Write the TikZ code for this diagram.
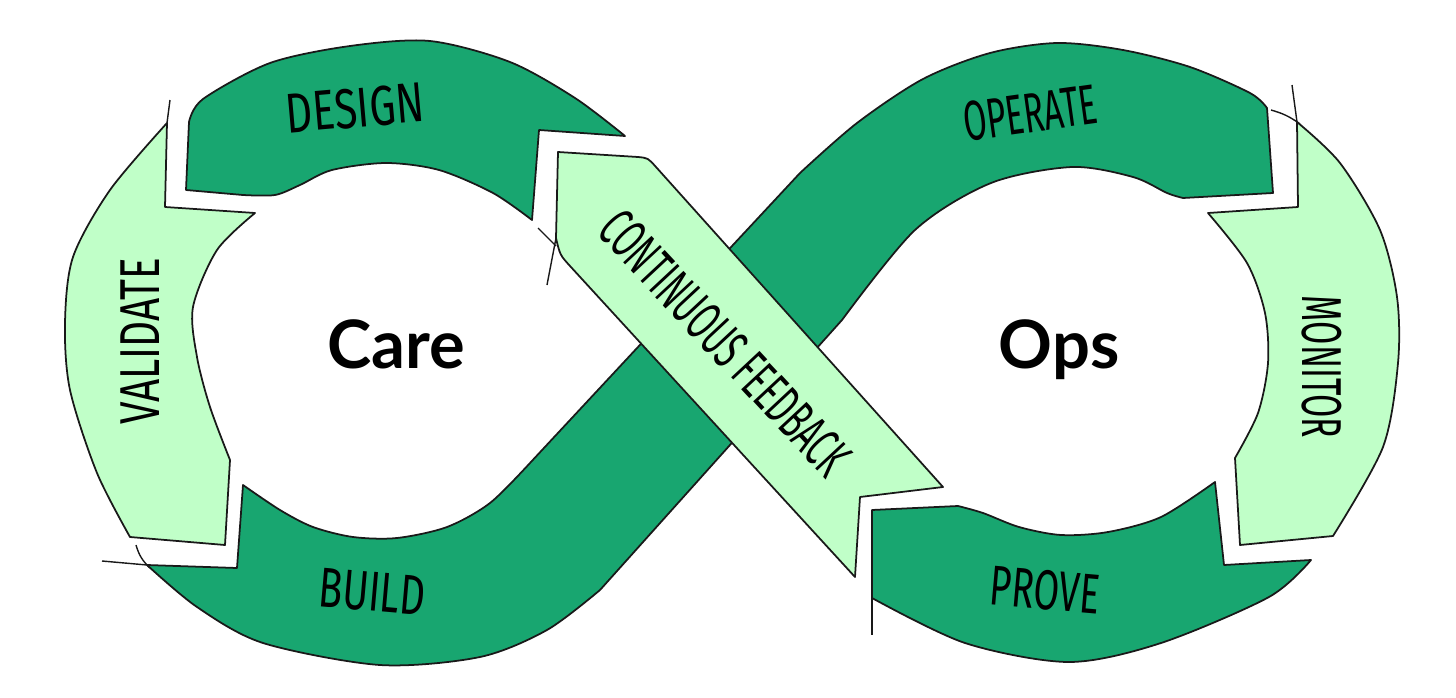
\documentclass[tikz,border=0pt]{standalone}
\usepackage{fontspec}
\usepackage{graphicx}
\setmainfont{Lato}
\newfontfamily\handfont{Fira Sans}
\definecolor{loopdark}{RGB}{24,166,112}
\definecolor{looplight}{RGB}{192,255,200}
\definecolor{inkcolor}{RGB}{25,25,25}

\begin{document}
\begin{tikzpicture}[
    x=0.1mm, y=-0.1mm,
    darkseg/.style={fill=loopdark, draw=inkcolor, line width=0.5pt, line join=round},
    lightseg/.style={fill=looplight, draw=inkcolor, line width=0.5pt, line join=round},
    sketch/.style={draw=inkcolor, line width=0.4pt},
    hand/.style={font=\handfont\fontsize{16}{16}\selectfont, inner sep=0pt},
    core/.style={font=\bfseries\fontsize{19}{19}\selectfont, inner sep=0pt},
  ]
  \useasboundingbox (0,0) rectangle (1456,698);

  % --- Design (top of left loop) ---
  \path[darkseg] (186,190) -- (189,122)
    -- plot[smooth] coordinates {(189,122) (203,99) (270,63) (350,46) (430,41) (510,62) (575,98) (625,136)}
    -- (539,130) -- (532,220)
    -- plot[smooth] coordinates {(532,220) (493,193) (439,170) (386,163) (332,170) (300,185) (275,195) (243,195)}
    -- cycle;

  % --- Build, diagonal and Operate: one band ---
  \path[darkseg] (243,485)
    -- plot[smooth] coordinates {(243,485) (280,510) (313,527) (353,537) (397,538) (447,527) (490,503) (530,463)}
    -- (800,173)
    -- plot[smooth] coordinates {(800,173) (857,123) (923,79) (990,53) (1057,43) (1123,50) (1190,67) (1250,93) (1267,108)}
    -- (1273,193) -- (1183,198)
    -- plot[smooth] coordinates {(1183,198) (1167,193) (1133,177) (1072,167) (991,183) (915,230) (842,320)}
    -- (600,590)
    -- plot[smooth] coordinates {(600,590) (547,630) (480,657) (380,665) (263,643) (197,607) (147,565)}
    -- (237,568) -- cycle;

  % --- Prove (bottom of right loop) ---
  \path[darkseg] (872,510) -- (958,506)
    -- plot[smooth] coordinates {(958,506) (983,513) (1019,527) (1061,535) (1108,532) (1161,517) (1215,482)}
    -- (1224,565) -- (1311,560)
    -- plot[smooth] coordinates {(1311,560) (1269,597) (1161,643) (1069,662) (965,643) (872,598)}
    -- cycle;

  % --- Validate (left side) ---
  \path[lightseg] (167,123) -- (165,207) -- (255,213)
    -- plot[smooth] coordinates {(255,213) (217,250) (193,307) (197,357) (210,407) (230,460)}
    -- (225,545) -- (130,537)
    -- plot[smooth] coordinates {(130,537) (97,473) (70,390) (65,323) (73,257) (110,190) (167,123)}
    -- cycle;

  % --- Monitor (right side) ---
  \path[lightseg] (1297,122) -- (1298,207) -- (1208,213)
    -- plot[smooth] coordinates {(1208,213) (1247,263) (1265,313) (1268,363) (1258,413) (1235,458)}
    -- (1240,545) -- (1333,536)
    -- plot[smooth] coordinates {(1333,536) (1383,447) (1398,363) (1397,297) (1380,230) (1340,163) (1297,122)}
    -- cycle;

  % --- Continuous feedback arrow ---
  \path[lightseg] (558,152) -- (638,157) .. controls (648,158) .. (656,167)
    -- (943,487) -- (860,497) -- (855,577)
    -- (570,266) .. controls (560,255) .. (556,238) -- cycle;

  % sketchy overshoots
  \draw[sketch] (170,100) -- (167,123);
  \draw[sketch] (102,561) -- (147,565);
  \draw[sketch] (136,545) to[bend right=15] (150,568);
  \draw[sketch] (556,238) -- (547,285);
  \draw[sketch] (538,228) -- (556,246);
  \draw[sketch] (1292,85) -- (1297,122);
  \draw[sketch] (1271,110) to[bend left=10] (1300,124);
  \draw[sketch] (872,598) -- (872,635);

  % Labels on the loop
  \foreach \name/\pos/\ang/\sx/\txt in {
      design/{355,108}/5/0.74/DESIGN,
      operate/{1030,113}/8/0.6/OPERATE,
      validate/{140,341}/90/0.72/VALIDATE,
      monitor/{1322,367}/-90/0.6/MONITOR,
      build/{372,592}/-5/0.7/BUILD,
      prove/{1045,590}/-5/0.66/PROVE,
      feedback/{725,343}/-47/0.56/CONTINUOUS FEEDBACK} {
    \node[hand, rotate=\ang] (\name) at (\pos) {\scalebox{\sx}[1]{\txt}};
  }

  % Centre words
  \node[core, anchor=base] (care) at (396,368) {Care};
  \node[core, anchor=base] (ops) at (1059,368) {Ops};

\end{tikzpicture}
\end{document}
